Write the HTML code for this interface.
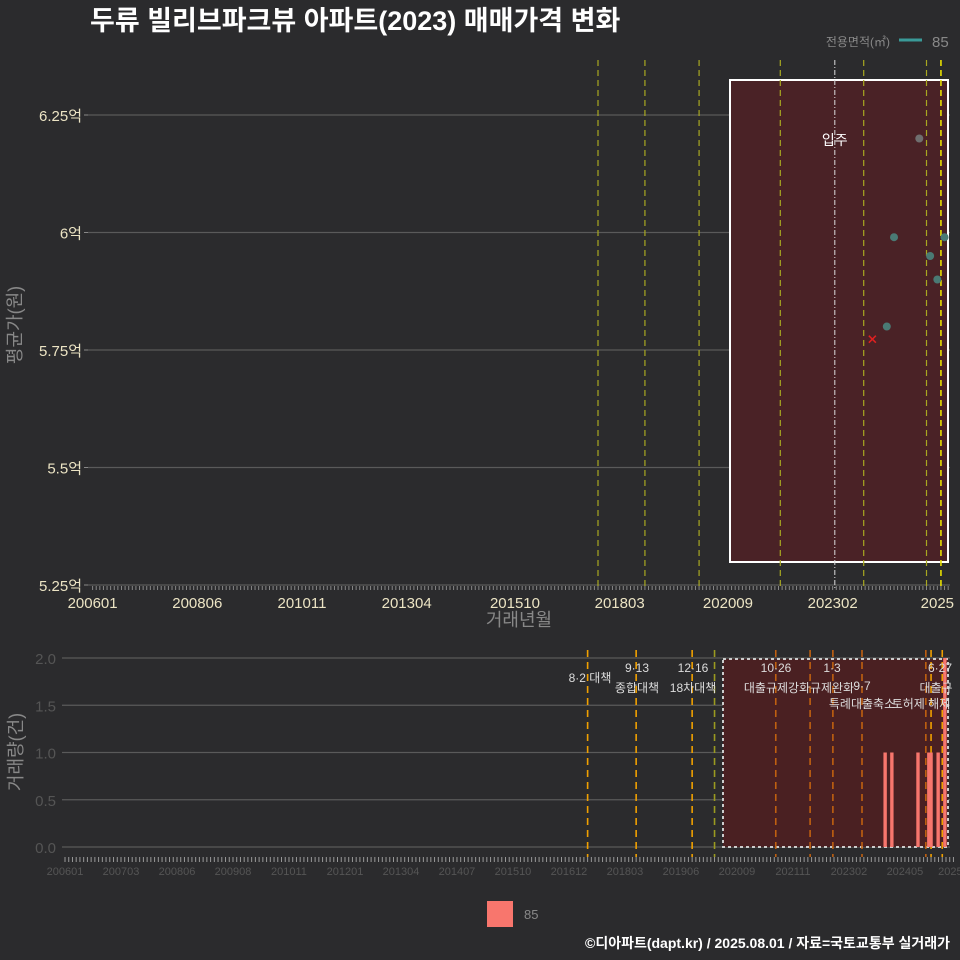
<!DOCTYPE html>
<html><head><meta charset="utf-8">
<style>
html,body{margin:0;padding:0;background:#2b2b2d;}
svg{display:block;font-family:"Liberation Sans","Noto Sans CJK KR",sans-serif;}
</style></head>
<body>
<svg id="chart" width="960" height="960" viewBox="0 0 960 960" xmlns="http://www.w3.org/2000/svg">
<rect x="0" y="0" width="960" height="960" fill="#2b2b2d"/>
<text x="90" y="30" font-size="27" font-weight="bold" fill="#ffffff">두류 빌리브파크뷰 아파트(2023) 매매가격 변화</text>
<text x="890" y="46" font-size="12" fill="#888" text-anchor="end">전용면적(㎡)</text>
<line x1="899" y1="40" x2="922" y2="40" stroke="#3a9a98" stroke-width="3"/>
<text x="932" y="47" font-size="15" fill="#888">85</text>
<g id="topG"></g>
<g id="botG"></g>
<rect x="487" y="901" width="26" height="26" fill="#f8766d"/>
<text x="524" y="919" font-size="13" fill="#888">85</text>
<text x="950" y="948" font-size="14" font-weight="bold" fill="#ffffff" text-anchor="end">©디아파트(dapt.kr) / 2025.08.01 / 자료=국토교통부 실거래가</text>
</svg>
<script>
// data (month index from 2006-01)
const priceTicks = [5.25, 5.5, 5.75, 6, 6.25];
const priceTickLabels = ["5.25억", "5.5억", "5.75억", "6억", "6.25억"];
const topXLabels = ["200601","200806","201011","201304","201510","201803","202009","202302","2025"];
const topXLabelIdx = [0, 29, 58, 87, 117, 146, 176, 205, 234];
const pointMonths = [220, 222, 229, 232, 234, 236];
const pointPrices = [5.80, 5.99, 6.20, 5.95, 5.90, 5.99];
const pointGray = [false, false, true, false, false, false];
const crossMonths = [216];
const crossPrices = [5.773];
const topLineMonths = [140, 153, 168, 190.5, 213.6, 231, 235];
const moveInMonth = 205.6;
const volTicks = [0, 0.5, 1, 1.5, 2];
const volTickLabels = ["0.0", "0.5", "1.0", "1.5", "2.0"];
const botXLabels = ["200601","200703","200806","200908","201011","201201","201304","201407","201510","201612","201803","201906","202009","202111","202302","202405","20250"];
const botXLabelIdx = [0,15,30,45,60,75,90,105,120,135,150,165,180,195,210,225,238];
const barMonths = [219.7, 221.5, 228.5, 231.4, 232, 233.9, 235.7];
const barValues = [1, 1, 1, 1, 1, 1, 2];
const eventMonths = [140, 153, 168, 174, 190.4, 199.6, 205.7, 213.5, 230.6, 232, 235];
const eventColors = ["#f0a000","#f0a000","#f0a000","#9a9a20","#c06010","#c06010","#c06010","#c06010","#c06010","#f0a000","#f0a000"];

const NS = "http://www.w3.org/2000/svg";
function mk(parent, tag, attrs, text) {
  const e = document.createElementNS(NS, tag);
  for (const k in attrs) e.setAttribute(k, attrs[k]);
  if (text !== undefined) e.textContent = text;
  parent.appendChild(e);
  return e;
}
const tx = m => 92.6 + 3.61 * m;
const ty = v => 585 - (v - 5.25) / 0.25 * 117.5;
const bx = m => 65 + 3.733 * m;
const by = v => 847 - v * 94.5;

const topG = document.getElementById("topG");
priceTicks.forEach((v, i) => {
  const l = mk(topG, "line", {x1: 88, x2: 950, y1: ty(v), y2: ty(v), stroke: "#5a5a5a", "stroke-width": 1.2});
  
  
  const t = mk(topG, "text", {x: 82, y: ty(v) + 6, "font-size": 15, fill: "#ece4c4", "text-anchor": "end"}, priceTickLabels[i]);
  
  
  const tk = mk(topG, "line", {x1: 84, x2: 88, y1: ty(v), y2: ty(v), stroke: "#888"});
  
  
});
for (let m = 0; m <= 237; m++) {
  const l = mk(topG, "line", {x1: tx(m), x2: tx(m), y1: 586, y2: 590, stroke: "#888", "stroke-width": 1});
  
  
}
topXLabels.forEach((s, i) => {
  const t = mk(topG, "text", {x: tx(topXLabelIdx[i]), y: 608, "font-size": 15, fill: "#ece4c4", "text-anchor": "middle"}, s);
  
  
});
const xt = mk(topG, "text", {x: 519, y: 626, "font-size": 18, fill: "#888", "text-anchor": "middle"}, "거래년월");


const yt = mk(topG, "text", {x: 0, y: 0, "font-size": 18, fill: "#888", "text-anchor": "middle", transform: "translate(21,325) rotate(-90)"}, "평균가(원)");


const hr = mk(topG, "rect", {x: 730, y: 80, width: 218, height: 482, fill: "#4a2226", stroke: "#ffffff", "stroke-width": 2});


topLineMonths.forEach((m, i) => {
  const last = i === topLineMonths.length - 1;
  const l = mk(topG, "line", {x1: tx(m), x2: tx(m), y1: 60, y2: 590, stroke: last ? "#e8e000" : "#a8a820", "stroke-width": last ? 1.6 : 1.2, "stroke-dasharray": "6,4"});
  
  
});
const mi = mk(topG, "line", {x1: tx(moveInMonth), x2: tx(moveInMonth), y1: 60, y2: 590, stroke: "#dddddd", "stroke-width": 1, "stroke-dasharray": "5,2,1,2"});


const mt = mk(topG, "text", {x: tx(moveInMonth), y: 145, "font-size": 14, fill: "#ffffff", "text-anchor": "middle"}, "입주");


pointMonths.forEach((m, i) => {
  const c = mk(topG, "circle", {cx: tx(m), cy: ty(pointPrices[i]), r: 4, fill: pointGray[i] ? "#6f6f6f" : "#4a7a74"});
  
  
});
crossMonths.forEach((m, i) => {
  const x = tx(m), y = ty(crossPrices[i]);
  const p = mk(topG, "path", {d: `M${x-3.5},${y-3.5}L${x+3.5},${y+3.5}M${x-3.5},${y+3.5}L${x+3.5},${y-3.5}`, stroke: "#e02020", "stroke-width": 1.5});
  
  
});

const botG = document.getElementById("botG");
volTicks.forEach((v, i) => {
  const l = mk(botG, "line", {x1: 62, x2: 950, y1: by(v), y2: by(v), stroke: "#5a5a5a", "stroke-width": 1.2});
  
  
  const t = mk(botG, "text", {x: 56, y: by(v) + 6, "font-size": 15, fill: "#555", "text-anchor": "end"}, volTickLabels[i]);
  
  
});
for (let m = 0; m <= 238; m++) {
  const l = mk(botG, "line", {x1: bx(m), x2: bx(m), y1: 857, y2: 862, stroke: "#999", "stroke-width": 1});
  
  
}
botXLabels.forEach((s, i) => {
  const t = mk(botG, "text", {x: bx(botXLabelIdx[i]), y: 875, "font-size": 11, fill: "#555", "text-anchor": "middle"}, s);
  
  
});
const yt2 = mk(botG, "text", {x: 0, y: 0, "font-size": 18, fill: "#888", "text-anchor": "middle", transform: "translate(22,752) rotate(-90)"}, "거래량(건)");


const br = mk(botG, "rect", {x: 723, y: 659, width: 225, height: 188, fill: "#4a2022", stroke: "#cccccc", "stroke-width": 2, "stroke-dasharray": "3,3"});


eventMonths.forEach((m, i) => {
  const l = mk(botG, "line", {x1: bx(m), x2: bx(m), y1: 650, y2: 857, stroke: eventColors[i], "stroke-width": 1.6, "stroke-dasharray": "7,5"});
  
  
});
barMonths.forEach((m, i) => {
  const r = mk(botG, "rect", {x: bx(m) - 1.7, y: by(barValues[i]), width: 3.4, height: by(0) - by(barValues[i]), fill: "#f8766d"});
  
  
});
const labels = [
  [590, 682, "8·2 대책", 12], [637, 672, "9·13", 12], [637, 692, "종합대책", 12],
  [693, 672, "12·16", 12], [693, 692, "18차대책", 12],
  [776, 672, "10·26", 12], [777, 692, "대출규제강화", 12],
  [832, 672, "1·3", 12], [832, 692, "규제완화", 12],
  [862, 690, "9·7", 12], [862, 708, "특례대출축소", 12], [921, 708, "토허제 해제", 12],
  [940, 672, "6·27", 12], [936, 692, "대출규", 12]
];
labels.forEach(a => {
  const t = mk(botG, "text", {x: a[0], y: a[1], "font-size": a[3], fill: "#dddddd", "text-anchor": "middle"}, a[2]);
  
  
});
</script>
</body></html>
